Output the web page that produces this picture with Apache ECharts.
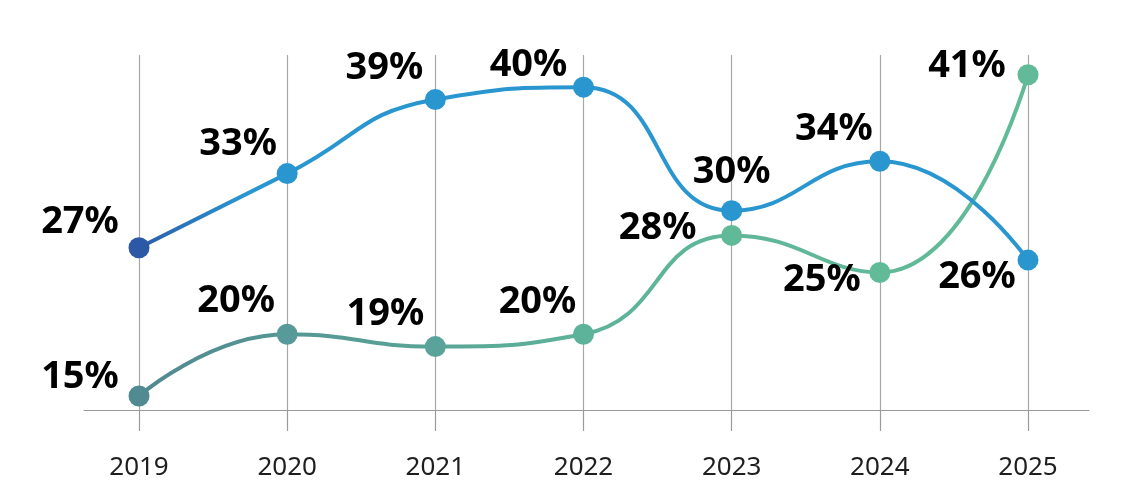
<!DOCTYPE html>
<html>
<head>
<meta charset="utf-8">
<script src="https://cdn.jsdelivr.net/npm/echarts@6/dist/echarts.min.js"></script>
<style>
  html, body { margin: 0; padding: 0; background: #fff; }
  #chart { width: 1125px; height: 503px; }
</style>
</head>
<body>
<div id="chart"></div>
<script>
const years = ['2019', '2020', '2021', '2022', '2023', '2024', '2025']
const blueValues = [27, 33, 39, 40, 30, 34, 26]
const greenValues = [15, 20, 19, 20, 28, 25, 41]

// label placement around each point (px from the marker centre)
const blueLabelOffsets = [[-59, -26], [-49, -29], [-51, -31], [-55, -22], [0, -39], [-46, -32], [-51, 17]]
const greenLabelOffsets = [[-59, -19], [-51, -33], [-50, -32], [-46, -32], [-74, -7], [-58, 8], [-61, -9]]
const bluePointColors = ['#2c58a6', '#2a96d0', '#2a96d0', '#2a96d0', '#2a96d0', '#2a96d0', '#2a96d0']
const greenPointColors = ['#528a91', '#589a99', '#5aa39a', '#5db39a', '#60ba98', '#61bb98', '#62bb98']

const labelFont = {
  fontFamily: 'Noto Sans',
  fontWeight: 'bold',
  fontSize: 38,
  color: '#000'
}

const buildData = (values, offsets, colors) =>
  values.map((v, i) => ({
    value: v,
    itemStyle: { color: colors[i] },
    label: { offset: offsets[i] }
  }))

const lineSeries = (name, values, offsets, colors, stops) => ({
  name,
  type: 'line',
  xAxisIndex: 0,
  yAxisIndex: 0,
  smooth: 0.5,
  symbol: 'circle',
  symbolSize: 21,
  lineStyle: {
    width: 4,
    color: {
      type: 'linear', x: 0, y: 0, x2: 1, y2: 0,
      colorStops: stops
    }
  },
  label: {
    show: true,
    position: 'inside',
    align: 'center',
    verticalAlign: 'middle',
    formatter: p => p.value + '%',
    ...labelFont
  },
  data: buildData(values, offsets, colors),
  z: 3
})

const chart = echarts.init(document.getElementById('chart'))
chart.setOption({
  animation: false,
  backgroundColor: '#fff',
  grid: [
    { left: 139, right: 97, top: 55, bottom: 93 },
    { left: 84, right: 36, top: 55, bottom: 93 }
  ],
  xAxis: [
    {
      type: 'category',
      gridIndex: 0,
      data: years,
      boundaryGap: false,
      axisLine: { show: false },
      axisTick: { show: true, length: 21, lineStyle: { color: '#9a9a9a', width: 1.2 } },
      splitLine: { show: true, lineStyle: { color: '#a8a8a8', width: 1.2 } },
      axisLabel: {
        margin: 45,
        fontFamily: 'Noto Sans',
        fontSize: 26,
        color: '#1e1e1e'
      }
    },
    {
      type: 'category',
      gridIndex: 1,
      data: [''],
      axisLine: { show: true, lineStyle: { color: '#9a9a9a', width: 1.2 } },
      axisTick: { show: false },
      axisLabel: { show: false },
      splitLine: { show: false }
    }
  ],
  yAxis: [
    {
      type: 'value',
      gridIndex: 0,
      min: 13.87,
      max: 42.6,
      show: false,
      splitLine: { show: false }
    },
    {
      type: 'value',
      gridIndex: 1,
      show: false,
      splitLine: { show: false }
    }
  ],
  series: [
    lineSeries('green', greenValues, greenLabelOffsets, greenPointColors, [
      { offset: 0, color: '#518890' },
      { offset: 0.5, color: '#5db39a' },
      { offset: 1, color: '#62bb97' }
    ]),
    lineSeries('blue', blueValues, blueLabelOffsets, bluePointColors, [
      { offset: 0, color: '#2d5aa6' },
      { offset: 0.12, color: '#2a96d0' },
      { offset: 1, color: '#2a96d0' }
    ])
  ]
})
window.addEventListener('resize', () => chart.resize())
</script>
</body>
</html>
